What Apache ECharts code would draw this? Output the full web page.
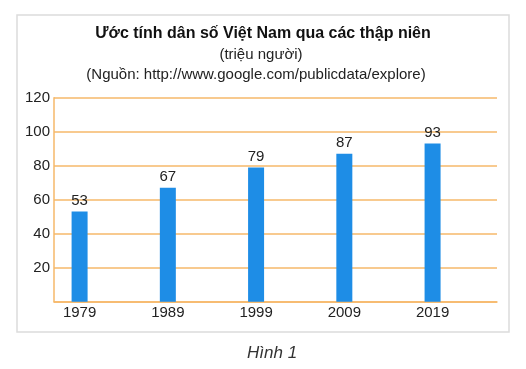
<!DOCTYPE html>
<html>
<head>
<meta charset="utf-8">
<script src="https://cdn.jsdelivr.net/npm/echarts@6/dist/echarts.min.js"></script>
<style>html,body{margin:0;padding:0;background:#fff}#c{width:526px;height:369px}</style>
</head>
<body>
<div id="c"></div>
<script>
const years = [1979, 1989, 1999, 2009, 2019];
const population = [53, 67, 79, 87, 93];
const yTicks = [0, 20, 40, 60, 80, 100, 120];
const titleText = 'Ước tính dân số Việt Nam qua các thập niên';
const unitText = '(triệu người)';
const sourceText = '(Nguồn: http://www.google.com/publicdata/explore)';
const captionText = 'Hình 1';

const FONT = '"Liberation Sans", Arial, sans-serif';
const ORANGE = '#f6b86a';
const chart = echarts.init(document.getElementById('c'), null, {renderer: 'canvas'});
chart.setOption({
  backgroundColor: '#fff',
  animation: false,
  graphic: [
    {type: 'rect', z: -10, shape: {x: 17, y: 15, width: 492, height: 317},
     style: {fill: '#fff', stroke: '#dcdcdc', lineWidth: 1.5}},
    {type: 'text', left: 247, top: 345, z: 10,
     style: {text: captionText, font: 'italic 17px ' + FONT, fill: '#333'}}
  ],
  title: [
    {text: titleText, left: 'center', top: 21,
     textStyle: {fontFamily: FONT, fontSize: 16, fontWeight: 'bold', color: '#111'}},
    {text: unitText, left: 256, top: 42, textAlign: 'center',
     textStyle: {fontFamily: FONT, fontSize: 15, fontWeight: 'normal', color: '#222'}},
    {text: sourceText, left: 251, top: 62, textAlign: 'center',
     textStyle: {fontFamily: FONT, fontSize: 15, fontWeight: 'normal', color: '#222'}}
  ],
  grid: {left: 54, right: 29, top: 97.7, bottom: 67.3, containLabel: false},
  xAxis: {
    type: 'value', min: 1976.1, max: 2026.3,
    splitLine: {show: false},
    axisTick: {show: false},
    axisLine: {show: true, onZero: false, lineStyle: {color: ORANGE, width: 1.5}},
    axisLabel: {customValues: years, formatter: v => String(v), margin: 4,
      fontFamily: FONT, fontSize: 15, color: '#222'}
  },
  yAxis: {
    type: 'value', min: yTicks[0], max: yTicks[yTicks.length - 1], interval: 20,
    axisLine: {show: true, lineStyle: {color: ORANGE, width: 1.5}},
    axisTick: {show: false},
    splitLine: {show: true, lineStyle: {color: ORANGE, width: 1.5}},
    axisLabel: {showMinLabel: false, margin: 4, fontFamily: FONT, fontSize: 15, color: '#222'}
  },
  series: [{
    type: 'bar',
    data: years.map((y, i) => [y, population[i]]),
    barWidth: 16,
    itemStyle: {color: '#1e8de6'},
    label: {show: true, position: 'top', distance: 3, fontFamily: FONT, fontSize: 15, color: '#222'}
  }]
});
</script>
</body>
</html>
